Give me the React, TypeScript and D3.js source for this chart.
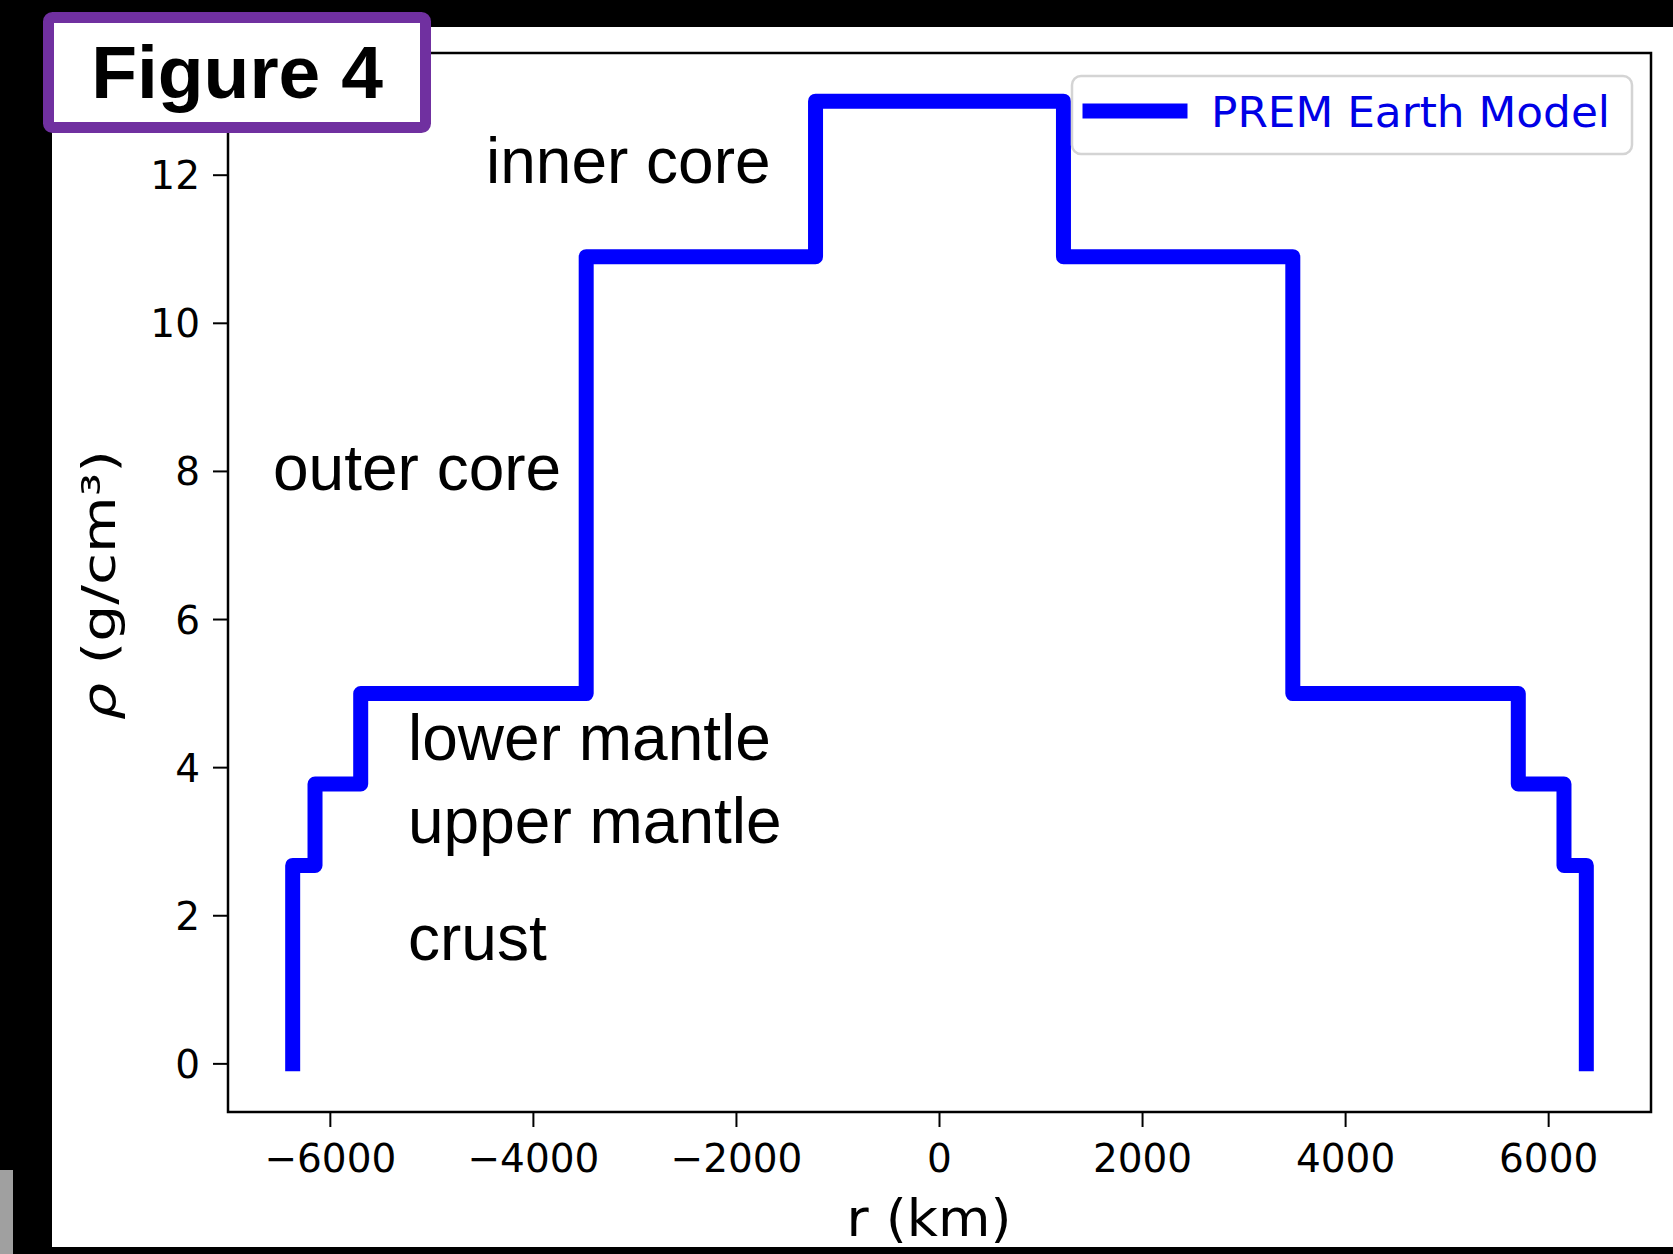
import React from "react";
import * as d3 from "d3";

const W = 1673;
const H = 1254;

// PREM-like layered density model
const layerNames = ["inner core", "outer core", "lower mantle", "upper mantle", "crust"];
const outerRadii = [1221, 3480, 5701, 6151, 6371]; // km, outer radius of each layer
const densities = [13.0, 10.9, 5.0, 3.78, 2.68]; // g/cm^3
const xTicks = [-6000, -4000, -2000, 0, 2000, 4000, 6000];
const yTicks = [0, 2, 4, 6, 8, 10, 12];
const legendLabel = "PREM Earth Model";

const fmt = (v: number) => (v < 0 ? "\u2212" + Math.abs(v) : String(v));

export default function App() {
  const left = 228, right = 1651, top = 53, bottom = 1112;
  const rMax = outerRadii[outerRadii.length - 1];
  const xPad = rMax * 2 * 0.05;
  const dMax = Math.max(...densities);
  const yPad = dMax * 0.05;
  const x = d3.scaleLinear().domain([-rMax - xPad, rMax + xPad]).range([left, right]);
  const y = d3.scaleLinear().domain([-yPad, dMax + yPad]).range([bottom, top]);

  // build step profile from surface (-R) through center to surface (+R)
  const pts: [number, number][] = [];
  pts.push([-rMax, 0]);
  for (let i = outerRadii.length - 1; i >= 0; i--) {
    const r = outerRadii[i];
    const inner = i > 0 ? outerRadii[i - 1] : -outerRadii[0];
    pts.push([-r, densities[i]]);
    if (i > 0) pts.push([-inner, densities[i]]);
    else pts.push([outerRadii[0], densities[0]]);
  }
  for (let i = 1; i < outerRadii.length; i++) {
    pts.push([outerRadii[i - 1], densities[i]]);
    pts.push([outerRadii[i], densities[i]]);
  }
  pts.push([rMax, 0]);
  const line = d3.line<[number, number]>().x((d) => x(d[0])).y((d) => y(d[1]));

  const sans = "'Liberation Sans', Arial, sans-serif";
  const dv = "'DejaVu Sans', sans-serif";

  const annots: { t: string; x: number; y: number }[] = [
    { t: layerNames[0], x: 486, y: 183 },
    { t: layerNames[1], x: 273, y: 490 },
    { t: layerNames[2], x: 408, y: 760 },
    { t: layerNames[3], x: 408, y: 843 },
    { t: layerNames[4], x: 408, y: 960 },
  ];

  return (
    <svg
      width={W}
      height={H}
      style={{ position: "absolute", left: 0, top: 0, display: "block" }}
    >
      <rect x={0} y={0} width={W} height={H} fill="#000" />
      <rect x={52} y={27} width={W - 52} height={1247 - 27} fill="#fff" />
      <rect x={0} y={1170} width={13} height={H - 1170} fill="#a0a0a0" />

      {/* axes frame */}
      <rect x={left} y={top} width={right - left} height={bottom - top} fill="none" stroke="#000" strokeWidth={2.5} />

      {/* x ticks */}
      {xTicks.map((t) => (
        <g key={"x" + t}>
          <line x1={x(t)} x2={x(t)} y1={bottom} y2={bottom + 15} stroke="#000" strokeWidth={2} />
          <text x={x(t)} y={1172} textAnchor="middle" fontFamily={dv} fontSize={39} fill="#000">
            {fmt(t)}
          </text>
        </g>
      ))}
      {/* y ticks */}
      {yTicks.map((t) => (
        <g key={"y" + t}>
          <line x1={left - 15} x2={left} y1={y(t)} y2={y(t)} stroke="#000" strokeWidth={2} />
          <text x={200} y={y(t)} dy="0.36em" textAnchor="end" fontFamily={dv} fontSize={39} fill="#000">
            {fmt(t)}
          </text>
        </g>
      ))}

      {/* axis labels */}
      <text x={929} y={1236} textAnchor="middle" fontFamily={dv} fontSize={52} fill="#000" textLength={165} lengthAdjust="spacingAndGlyphs">
        r (km)
      </text>
      <text
        transform="translate(115,585) rotate(-90)"
        textAnchor="middle"
        fontFamily={dv}
        fontSize={46}
        fill="#000"
        textLength={270}
        lengthAdjust="spacingAndGlyphs"
      >
        <tspan fontStyle="italic">ρ</tspan> (g/cm³)
      </text>

      {/* data line */}
      <path
        d={line(pts) || ""}
        fill="none"
        stroke="#0000ff"
        strokeWidth={15}
        strokeLinejoin="round"
        strokeLinecap="square"
      />

      {/* legend */}
      <rect x={1072} y={76} width={560} height={78} rx={9} fill="#fff" fillOpacity={0.85} stroke="#d4d4d4" strokeWidth={2.5} />
      <line x1={1090} x2={1180} y1={111} y2={111} stroke="#0000ff" strokeWidth={15} strokeLinecap="square" />
      <text x={1211} y={127} fontFamily={dv} fontSize={43} fill="#0000e6" textLength={399} lengthAdjust="spacingAndGlyphs">
        {legendLabel}
      </text>

      {/* annotations */}
      {annots.map((a) => (
        <text key={a.t} x={a.x} y={a.y} fontFamily={sans} fontSize={64} fill="#000">
          {a.t}
        </text>
      ))}

      {/* Figure label box */}
      <rect x={48.5} y={17.5} width={377} height={110} rx={4} fill="#fff" stroke="#7030a0" strokeWidth={11} />
      <text x={237} y={98} textAnchor="middle" fontFamily={sans} fontWeight="bold" fontSize={75} fill="#000">
        Figure 4
      </text>
    </svg>
  );
}
